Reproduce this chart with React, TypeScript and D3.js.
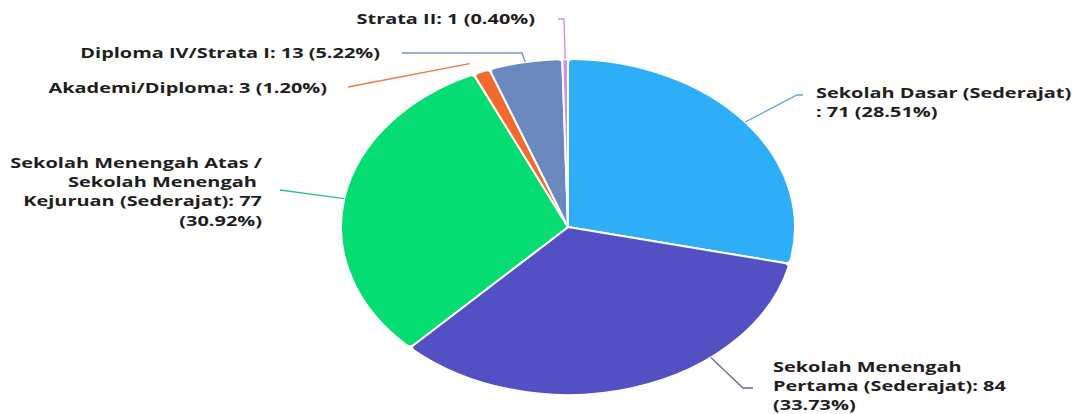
import React from "react";
import * as d3 from "d3";

const categories = [
  "Sekolah Dasar (Sederajat)",
  "Sekolah Menengah Pertama (Sederajat)",
  "Sekolah Menengah Atas / Sekolah Menengah Kejuruan (Sederajat)",
  "Akademi/Diploma",
  "Diploma IV/Strata I",
  "Strata II",
];
const values = [71, 84, 77, 3, 13, 1];
const colors = ["#2daef7", "#5350c3", "#05dc72", "#f26a2e", "#6a89be", "#d38ef2"];
const lineColors = ["#58a9d6", "#6b6a98", "#2dc47a", "#ee7640", "#7c92b8", "#c98ae6"];

// label line templates (text built from the data)
const wraps: ((n: string, v: number, p: string) => string[])[] = [
  (n, v, p) => [n, `: ${v} (${p}%)`],
  (n, v, p) => ["Sekolah Menengah", `Pertama (Sederajat): ${v}`, `(${p}%)`],
  (n, v, p) => ["Sekolah Menengah Atas /", "Sekolah Menengah ", `Kejuruan (Sederajat): ${v}`, `(${p}%)`],
  (n, v, p) => [`${n}: ${v} (${p}%)`],
  (n, v, p) => [`${n}: ${v} (${p}%)`],
  (n, v, p) => [`${n}: ${v} (${p}%)`],
];

// layout: anchor angle override (deg), radius factor, elbow points, label position
const layout = [
  { anchor: null as number | null, rf: 1, pts: [[797, 95], [803, 95]], tx: 816, ty: 98, anchorText: "start" },
  { anchor: 141, rf: 1, pts: [[743, 388], [753, 388]], tx: 773, ty: 372, anchorText: "start" },
  { anchor: null, rf: 1, pts: [[280, 190]], tx: 262, ty: 168, anchorText: "end" },
  { anchor: 336, rf: 1.065, pts: [[348, 87]], tx: 327, ty: 93, anchorText: "end" },
  { anchor: null, rf: 1, pts: [[522, 53], [402, 53]], tx: 380, ty: 58, anchorText: "end" },
  { anchor: null, rf: 1, pts: [[564, 19], [558, 19]], tx: 535, ty: 24, anchorText: "end" },
];

const W = 1074;
const H = 414;
const cx = 568;
const cy = 227;
const R = 227;
const RY = 168;
const FS = 15;
const SX = 1.33;
const LH = 19.2;

export default function App() {
  const total = d3.sum(values);
  const pie = d3.pie<number>().sort(null).startAngle(0).endAngle(2 * Math.PI)(values);
  const arc = d3.arc<d3.PieArcDatum<number>>().innerRadius(0).outerRadius(R).cornerRadius(5);

  const pt = (deg: number, r = R): [number, number] => {
    const a = (deg * Math.PI) / 180;
    return [cx + r * Math.sin(a), cy - (r * RY) / R * Math.cos(a)];
  };

  return (
    <svg
      width={W}
      height={H}
      style={{ position: "absolute", left: 0, top: 0, background: "#fff" }}
      fontFamily="'Open Sans', sans-serif"
      fontWeight={700}
      fontSize={FS}
    >
      <g transform={`translate(${cx},${cy}) scale(1,${RY / R})`}>
        {pie.map((d, i) => (
          <path
            key={i}
            d={arc(d) || ""}
            fill={colors[i]}
            stroke="#fff"
            strokeWidth={2}
            vectorEffect="non-scaling-stroke"
          />
        ))}
      </g>
      {pie.map((d, i) => {
        const L = layout[i];
        const mid = ((d.startAngle + d.endAngle) / 2) * (180 / Math.PI);
        const a = pt(L.anchor ?? mid, R * L.rf);
        const points = [a, ...L.pts];
        const pct = ((values[i] / total) * 100).toFixed(2);
        const lines = wraps[i](categories[i], values[i], pct);
        return (
          <g key={i}>
            <path
              d={d3.line()(points as [number, number][]) || ""}
              fill="none"
              stroke={lineColors[i]}
              strokeWidth={1.3}
            />
            <g transform={`translate(${L.tx},${L.ty}) scale(${SX},1)`}>
              <text textAnchor={L.anchorText as any} fill="#1e1e1e" style={{ whiteSpace: "pre" }}>
                {lines.map((t, j) => (
                  <tspan key={j} x={0} y={j * LH}>
                    {t}
                  </tspan>
                ))}
              </text>
            </g>
          </g>
        );
      })}
    </svg>
  );
}
